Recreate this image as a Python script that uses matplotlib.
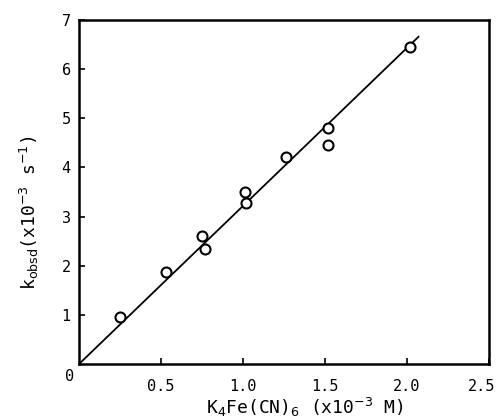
import matplotlib
matplotlib.use('Agg')
import matplotlib.pyplot as plt
import matplotlib.transforms as mtransforms
import numpy as np

# data
conc = [0.25, 0.53, 0.75, 0.77, 1.01, 1.02, 1.26, 1.52, 1.52, 2.02]
kobsd = [0.95, 1.88, 2.60, 2.35, 3.50, 3.28, 4.22, 4.80, 4.46, 6.45]
fit_x = [0.0, 2.07]
fit_y = [0.0, 6.66]
xticks = [0.5, 1.0, 1.5, 2.0, 2.5]
xticklabels = ['0.5', '1.0', '1.5', '2.0', '2.5']
yticks = [1, 2, 3, 4, 5, 6, 7]

plt.rcParams['font.family'] = ['DejaVu Sans Mono', 'DejaVu Sans']

fig = plt.figure(figsize=(5, 4.18), dpi=100)
ax = fig.add_axes([0.158, 0.129, 0.82, 0.823])

ax.plot(fit_x, fit_y, color='black', linewidth=1.3)
ax.plot(conc, kobsd, linestyle='none', marker='o', markersize=7.2,
        markerfacecolor='white', markeredgecolor='black', markeredgewidth=1.5)

ax.set_xlim(0, 2.5)
ax.set_ylim(0, 7)
ax.set_xticks(xticks)
ax.set_xticklabels(xticklabels)
ax.set_yticks(yticks)
ax.tick_params(direction='in', length=4, width=1.2, labelsize=11)
ax.tick_params(axis='x', pad=11)
ax.tick_params(axis='y', pad=6)
for s in ax.spines.values():
    s.set_linewidth(1.8)

# nudge the last x label so it stays inside the figure
last = ax.get_xticklabels()[-1]
last.set_transform(last.get_transform() +
                   mtransforms.ScaledTranslation(-5 / 72, 0, fig.dpi_scale_trans))

ax.text(-0.022, -0.035, '0', transform=ax.transAxes, fontsize=11,
        ha='center', va='center')

ax.text(0.55, -0.125, r'K$_4$Fe(CN)$_6$ (x10$^{-3}$ M)', transform=ax.transAxes,
        fontsize=13, ha='center', va='center')
ax.text(-0.12, 0.44, r'k$_{\mathrm{obsd}}$(x10$^{-3}$ s$^{-1}$)', transform=ax.transAxes,
        fontsize=13, ha='center', va='center', rotation=90)

fig.savefig('out.png', dpi=100)
